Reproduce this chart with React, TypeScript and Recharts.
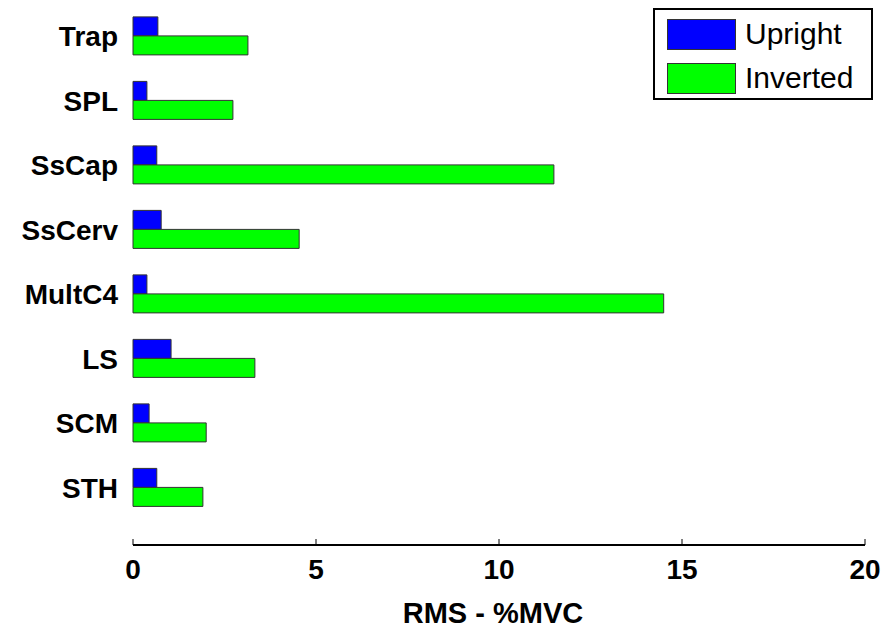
import React from 'react';
import { BarChart, Bar, XAxis, YAxis, Legend } from 'recharts';

const categories = ['Trap', 'SPL', 'SsCap', 'SsCerv', 'MultC4', 'LS', 'SCM', 'STH'];
const upright = [0.68, 0.38, 0.65, 0.77, 0.38, 1.04, 0.44, 0.65];
const inverted = [3.14, 2.73, 11.5, 4.54, 14.5, 3.33, 2.0, 1.91];
const xTicks = [0, 5, 10, 15, 20];
const seriesNames = ['Upright', 'Inverted'];

const data = categories.map((c, i) => ({ name: c, upright: upright[i], inverted: inverted[i] }));

const FONT = '"Liberation Sans", Arial, sans-serif';

const XTick = (props: any) => {
  const { x, y, payload } = props;
  return (
    <g>
      <line x1={x} y1={y} x2={x} y2={y - 6} stroke="#000" strokeWidth={1} />
      <text x={x} y={y + 34} textAnchor="middle" fontFamily={FONT} fontWeight="bold" fontSize={28} fill="#000">
        {payload.value}
      </text>
    </g>
  );
};

const XLabel = (props: any) => {
  const vb = props.viewBox || {};
  return (
    <text x={vb.x + vb.width / 2 - 6} y={vb.y + vb.height - 5} textAnchor="middle" fontFamily={FONT} fontWeight="bold" fontSize={29} fill="#000">
      RMS - %MVC
    </text>
  );
};

const LegendBox = () => (
  <div style={{ width: 216, height: 88, border: '2px solid #000', background: '#fff', position: 'relative', fontFamily: FONT }}>
    <div style={{ position: 'absolute', left: 12, top: 9, width: 67, height: 29, background: '#0000ff', border: '1px solid #333' }} />
    <div style={{ position: 'absolute', left: 90, top: 4, fontSize: 30, lineHeight: '40px', color: '#000' }}>{seriesNames[0]}</div>
    <div style={{ position: 'absolute', left: 12, top: 53, width: 67, height: 29, background: '#00ff00', border: '1px solid #333' }} />
    <div style={{ position: 'absolute', left: 90, top: 48, fontSize: 30, lineHeight: '40px', color: '#000' }}>{seriesNames[1]}</div>
  </div>
);

export default function App() {
  return (
    <div style={{ position: 'absolute', left: 0, top: 0, background: '#fff' }}>
      <BarChart
        width={883}
        height={628}
        data={data}
        layout="vertical"
        margin={{ top: 4, right: 18, bottom: 0, left: 0 }}
        barCategoryGap="20%"
        barGap={0}
      >
        <XAxis
          type="number"
          domain={[0, 20]}
          ticks={xTicks}
          height={83}
          axisLine={{ stroke: '#000', strokeWidth: 2 }}
          tickLine={false}
          tickSize={0}
          tickMargin={0}
          tick={<XTick />}
          label={<XLabel />}
        />
        <YAxis
          type="category"
          dataKey="name"
          width={133}
          axisLine={false}
          tickLine={false}
          tickSize={0}
          tickMargin={15}
          padding={{ top: 0, bottom: 25 }}
          tick={{ fontFamily: FONT, fontWeight: 'bold', fontSize: 28, fill: '#000' }}
        />
        <Legend
          verticalAlign="middle"
          align="center"
          layout="horizontal"
          content={<LegendBox />}
          wrapperStyle={{ position: 'absolute', top: 8, left: 653, width: 220, height: 92 }}
        />
        <Bar dataKey="upright" fill="#0000ff" stroke="#333" strokeWidth={1} isAnimationActive={false} />
        <Bar dataKey="inverted" fill="#00ff00" stroke="#333" strokeWidth={1} isAnimationActive={false} />
      </BarChart>
    </div>
  );
}
